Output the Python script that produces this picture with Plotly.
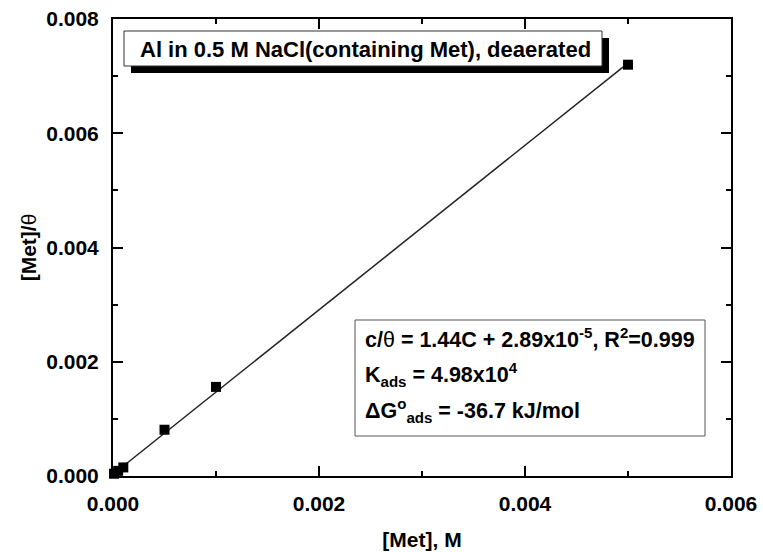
import plotly.graph_objects as go

# Langmuir isotherm data: inhibitor concentration vs. C/theta
conc = [0.00001, 0.00005, 0.0001, 0.0005, 0.001, 0.005]
c_theta = [0.00004, 0.00009, 0.00015, 0.00081, 0.00156, 0.0072]

# linear fit parameters (c/theta = slope*C + intercept)
slope = 1.44
intercept = 2.89e-5

x_ticks = [0.000, 0.002, 0.004, 0.006]
y_ticks = [0.000, 0.002, 0.004, 0.006, 0.008]

FONT = "Arial, 'Liberation Sans', sans-serif"

fit_x = [conc[0], conc[-1]]
fit_y = [slope * v + intercept for v in fit_x]

fig = go.Figure()
fig.add_trace(go.Scatter(
    x=fit_x, y=fit_y, mode="lines",
    line=dict(color="#222222", width=1.5),
    showlegend=False, hoverinfo="skip",
))
fig.add_trace(go.Scatter(
    x=conc, y=c_theta, mode="markers",
    marker=dict(symbol="square", size=10, color="black", line=dict(width=0)),
    cliponaxis=False, showlegend=False,
))

PL, PR, PT, PB = 113, 731, 19, 476
def px(x):
    return (x - PL) / (PR - PL)
def py(y):
    return (PB - y) / (PB - PT)

shapes = [
    # shadow of the title box
    dict(type="rect", xref="paper", yref="paper",
         x0=px(131), x1=px(609), y0=py(73), y1=py(38),
         fillcolor="black", line=dict(width=0), layer="above"),
    # title box
    dict(type="rect", xref="paper", yref="paper",
         x0=px(124), x1=px(602), y0=py(66), y1=py(31),
         fillcolor="white", line=dict(color="#333333", width=1), layer="above"),
    # equation box
    dict(type="rect", xref="paper", yref="paper",
         x0=px(355), x1=px(705), y0=py(436), y1=py(320),
         fillcolor="white", line=dict(color="#555555", width=1), layer="above"),
]

EQ_X = 363
EQ_SIZE = 21.5
annotations = [
    dict(text="<b>Al in 0.5 M NaCl(containing Met), deaerated</b>",
         xref="paper", yref="paper", x=px(138), y=py(49),
         xanchor="left", yanchor="middle", showarrow=False,
         font=dict(family=FONT, size=22, color="black")),
    dict(text="<b>c/</b>θ<b> = 1.44C + 2.89x10<sup>-5</sup>, R<sup>2</sup>=0.999</b>",
         xref="paper", yref="paper", x=px(EQ_X), y=py(338),
         xanchor="left", yanchor="middle", showarrow=False,
         font=dict(family=FONT, size=EQ_SIZE, color="black")),
    dict(text="<b>K<sub>ads</sub> = 4.98x10<sup>4</sup></b>",
         xref="paper", yref="paper", x=px(EQ_X), y=py(374),
         xanchor="left", yanchor="middle", showarrow=False,
         font=dict(family=FONT, size=EQ_SIZE, color="black")),
    dict(text="<b>ΔG<sup>o</sup><sub>ads</sub> = -36.7 kJ/mol</b>",
         xref="paper", yref="paper", x=px(EQ_X), y=py(410),
         xanchor="left", yanchor="middle", showarrow=False,
         font=dict(family=FONT, size=EQ_SIZE, color="black")),
]

axis_common = dict(
    showline=True, linecolor="black", linewidth=2, mirror="allticks",
    ticks="inside", ticklen=10, tickwidth=2, tickcolor="black",
    showgrid=False, zeroline=False, tickformat=".3f", automargin=False,
    tickfont=dict(family=FONT, size=21, color="black", weight="bold"),
)

fig.update_layout(
    width=763, height=552,
    margin=dict(l=PL, r=763 - PR, t=PT, b=552 - PB),
    paper_bgcolor="white", plot_bgcolor="white",
    shapes=shapes, annotations=annotations,
    xaxis=dict(
        range=[0, 0.006], tickvals=x_ticks,
        minor=dict(dtick=0.001, ticks="inside", ticklen=5, tickwidth=2, tickcolor="black"),
        ticklabelstandoff=8,
        title=dict(text="<b>[Met], M</b>", standoff=18,
                   font=dict(family=FONT, size=21, color="black")),
        **axis_common,
    ),
    yaxis=dict(
        range=[0, 0.008], tickvals=y_ticks,
        minor=dict(dtick=0.001, ticks="inside", ticklen=5, tickwidth=2, tickcolor="black"),
        ticklabelstandoff=8,
        title=dict(text="<b>[Met]/</b>θ", standoff=4,
                   font=dict(family=FONT, size=21, color="black")),
        **axis_common,
    ),
)

fig.write_html("out.html")
